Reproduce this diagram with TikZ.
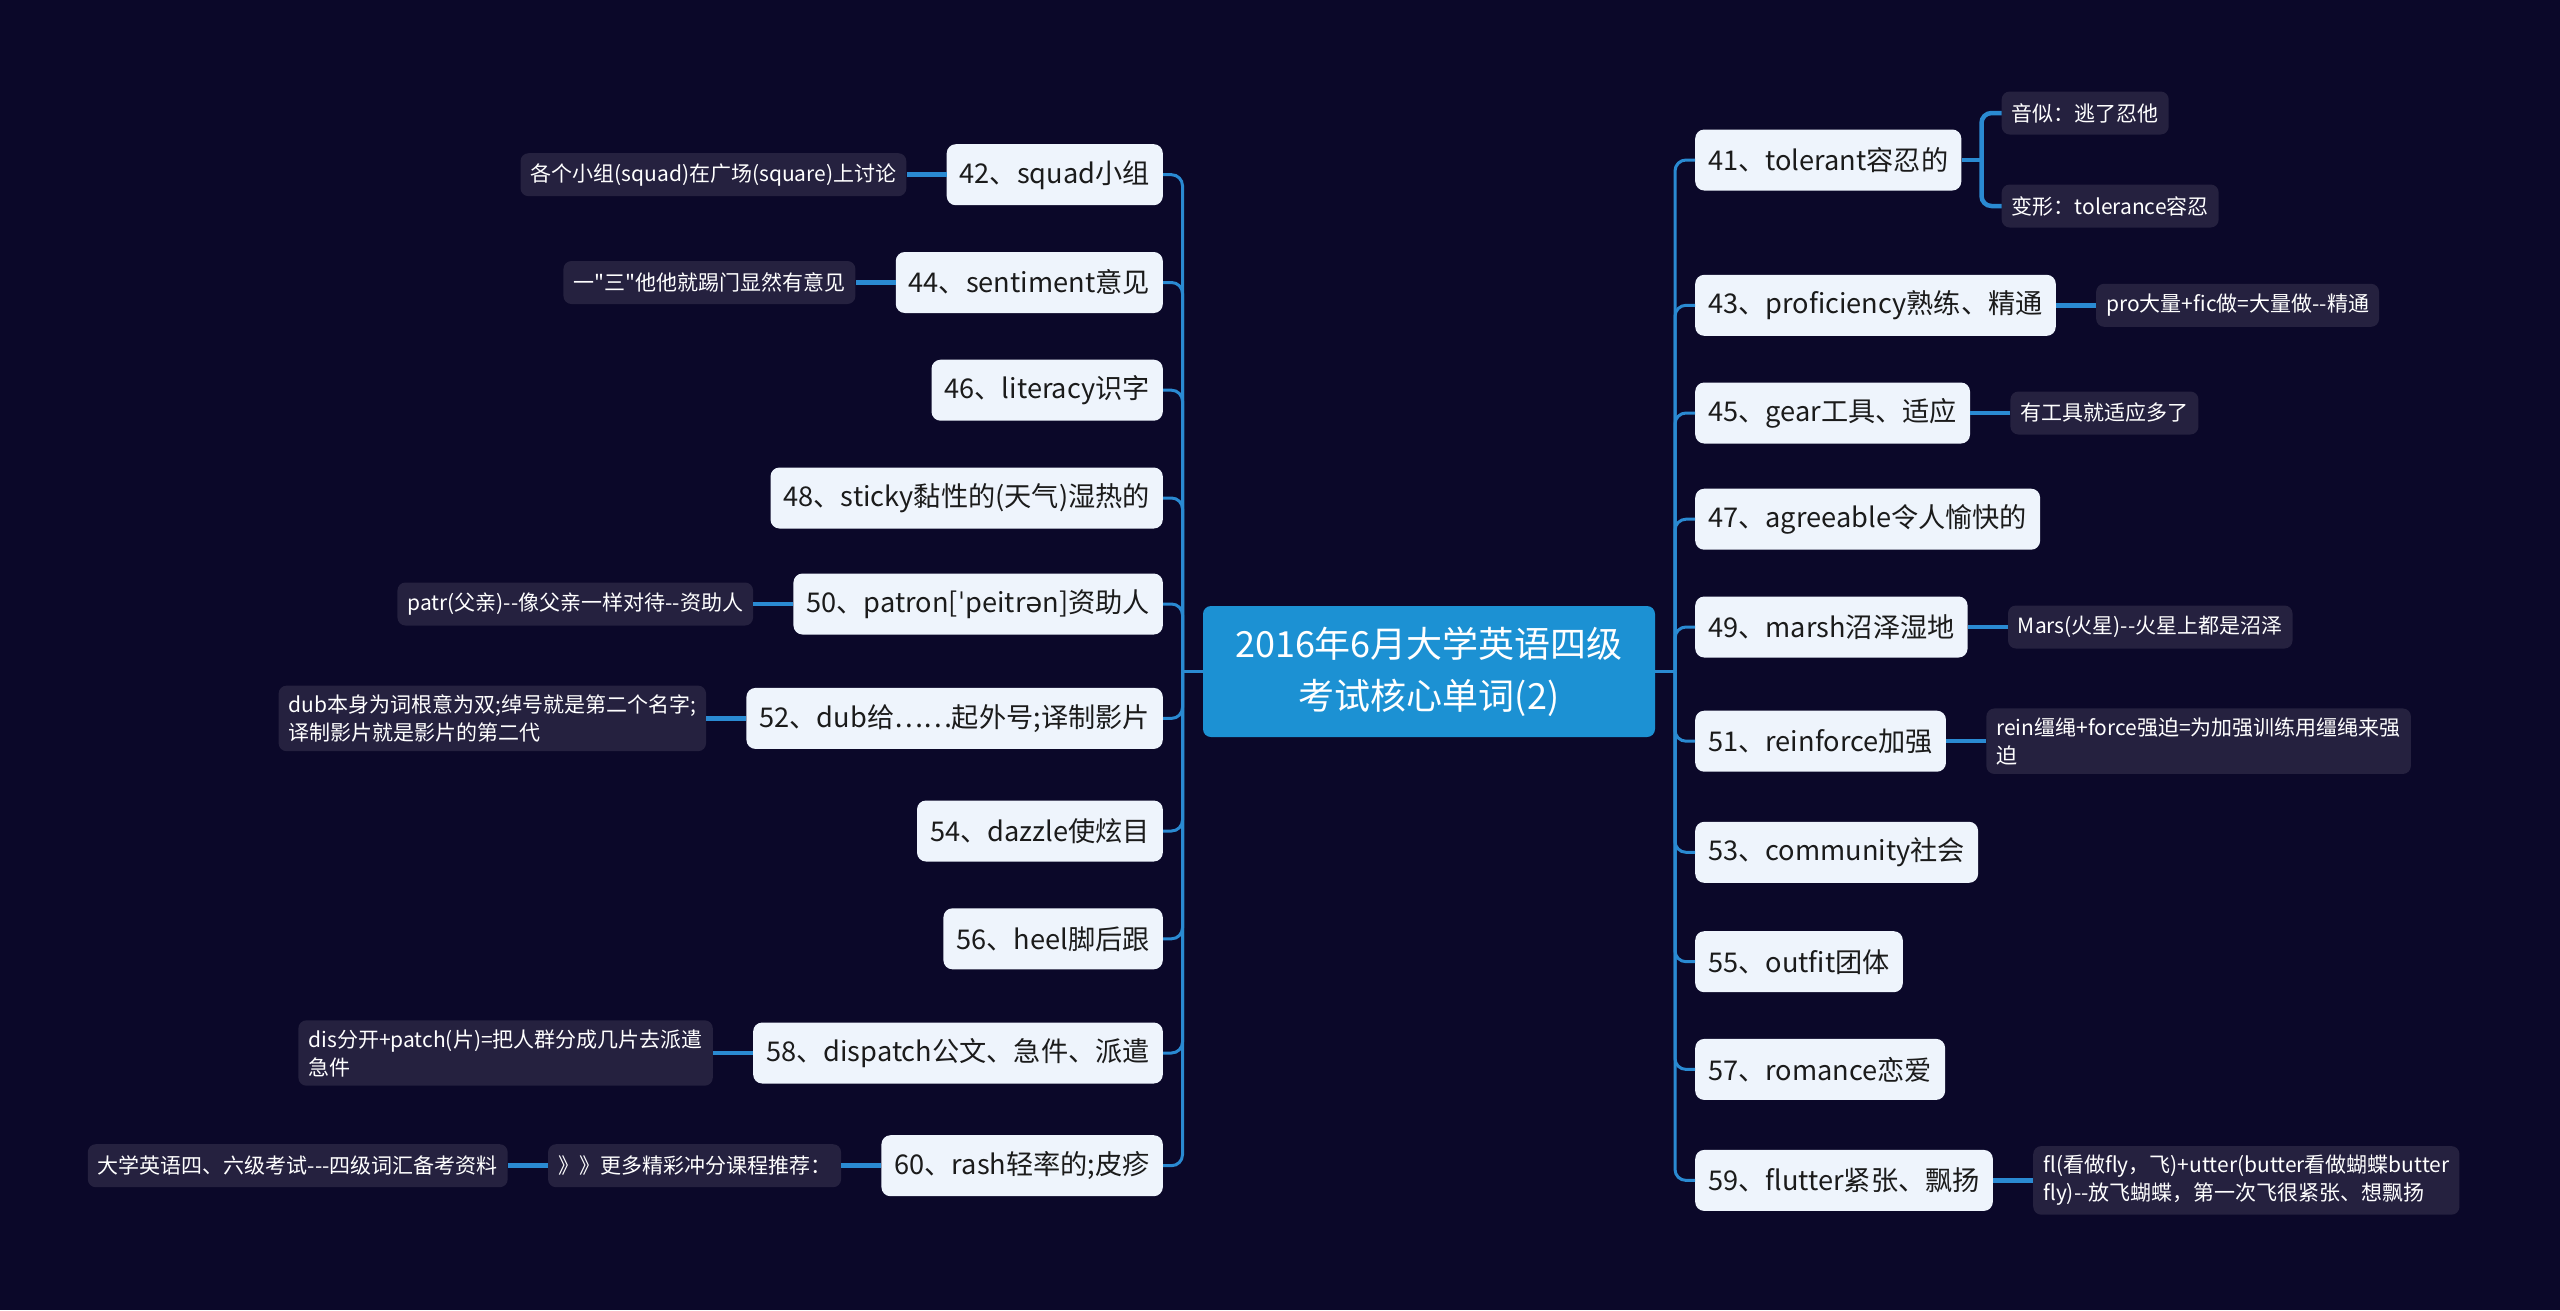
\documentclass[tikz,border=0pt]{standalone}
\usepackage{fontspec}
\setmainfont{Noto Sans CJK SC}[Ligatures=TeXOff]
\newfontfamily\ipafont{DejaVu Sans}
\usetikzlibrary{calc}
\definecolor{bg}{HTML}{0B0829}
\definecolor{rootc}{HTML}{1C91D3}
\definecolor{lonefill}{HTML}{EEF4FC}
\definecolor{lonetext}{HTML}{1B1B1B}
\definecolor{ltwofill}{HTML}{25213F}
\definecolor{linec}{HTML}{2A8AD2}
\tikzset{
  rootbox/.style={fill=rootc, text=white, rounded corners=8pt, minimum width=452pt,
    minimum height=131pt, align=center, font=\fontsize{36}{52}\selectfont},
  topic/.style={fill=lonefill, text=lonetext, rounded corners=9pt, minimum height=61pt,
    inner xsep=13pt, font=\fontsize{27.2}{33}\selectfont},
  note/.style={fill=ltwofill, text=white, rounded corners=8pt, minimum height=43pt,
    inner xsep=10pt, inner ysep=7pt, align=left, font=\fontsize{21}{28}\selectfont},
  branch/.style={draw=linec, line width=3pt, rounded corners=11pt},
  twig/.style={draw=linec, line width=4.5pt}
}
\begin{document}
\begin{tikzpicture}[x=1pt,y=-1pt]
\fill[bg] (0,0) rectangle (2560,1310);
\useasboundingbox (0,0) rectangle (2560,1310);

% root
\node[rootbox] (root) at (1429,671.5) {2016年6月大学英语四级\\考试核心单词(2)};
\coordinate (LS) at (1182.5,671.5);
\coordinate (RS) at (1675,671.5);

% left topics
\node[topic, anchor=east] (n42) at (1163,174.7) {42、squad小组};
\node[topic, anchor=east] (n44) at (1163,282.5) {44、sentiment意见};
\node[topic, anchor=east] (n46) at (1163,390.2) {46、literacy识字};
\node[topic, anchor=east] (n48) at (1163,498) {48、sticky黏性的(天气)湿热的};
\node[topic, anchor=east] (n50) at (1163,604) {50、patron[{\ipafont ˈ}peitr{\ipafont ə}n]资助人};
\node[topic, anchor=east] (n52) at (1163,718.4) {52、dub给……起外号;译制影片};
\node[topic, anchor=east] (n54) at (1163,831) {54、dazzle使炫目};
\node[topic, anchor=east] (n56) at (1163,938.8) {56、heel脚后跟};
\node[topic, anchor=east] (n58) at (1163,1053) {58、dispatch公文、急件、派遣};
\node[topic, anchor=east] (n60) at (1163,1165.7) {60、rash轻率的;皮疹};

% right topics
\node[topic, anchor=west] (n41) at (1695,160) {41、tolerant容忍的};
\node[topic, anchor=west] (n43) at (1695,305.3) {43、proficiency熟练、精通};
\node[topic, anchor=west] (n45) at (1695,413) {45、gear工具、适应};
\node[topic, anchor=west] (n47) at (1695,519.2) {47、agreeable令人愉快的};
\node[topic, anchor=west] (n49) at (1695,627) {49、marsh沼泽湿地};
\node[topic, anchor=west] (n51) at (1695,741.2) {51、reinforce加强};
\node[topic, anchor=west] (n53) at (1695,852.3) {53、community社会};
\node[topic, anchor=west] (n55) at (1695,961.7) {55、outfit团体};
\node[topic, anchor=west] (n57) at (1695,1069.4) {57、romance恋爱};
\node[topic, anchor=west] (n59) at (1695,1180.4) {59、flutter紧张、飘扬};

% left notes
\node[note, anchor=east] (d42) at ([xshift=-40pt]n42.west) {各个小组(squad)在广场(square)上讨论};
\node[note, anchor=east] (d44) at ([xshift=-40pt]n44.west) {一"三"他他就踢门显然有意见};
\node[note, anchor=east] (d50) at ([xshift=-40pt]n50.west) {patr(父亲)-{}-像父亲一样对待-{}-资助人};
\node[note, anchor=east, inner ysep=9pt] (d52) at ([xshift=-40pt]n52.west) {dub本身为词根意为双;绰号就是第二个名字;\\译制影片就是影片的第二代};
\node[note, anchor=east, inner ysep=9pt] (d58) at ([xshift=-40pt]n58.west) {dis分开+patch(片)=把人群分成几片去派遣\\急件};
\node[note, anchor=east] (d60) at ([xshift=-40pt]n60.west) {》》更多精彩冲分课程推荐：};
\node[note, anchor=east] (d60b) at ([xshift=-40pt]d60.west) {大学英语四、六级考试-{}-{}-四级词汇备考资料};

% right notes
\node[note, anchor=west] (d41a) at ($(n41.east)+(40,-47)$) {音似：逃了忍他};
\node[note, anchor=west] (d41b) at ($(n41.east)+(40,46)$) {变形：tolerance容忍};
\node[note, anchor=west] (d43) at ([xshift=40pt]n43.east) {pro大量+fic做=大量做-{}-精通};
\node[note, anchor=west] (d45) at ([xshift=40pt]n45.east) {有工具就适应多了};
\node[note, anchor=west] (d49) at ([xshift=40pt]n49.east) {Mars(火星)-{}-火星上都是沼泽};
\node[note, anchor=west, inner ysep=9pt] (d51) at ([xshift=40pt]n51.east) {rein缰绳+force强迫=为加强训练用缰绳来强\\迫};
\node[note, anchor=west, inner ysep=9pt] (d59) at ([xshift=40pt]n59.east) {fl(看做fly，飞)+utter(butter看做蝴蝶butter\\fly)-{}-放飞蝴蝶，第一次飞很紧张、想飘扬};

% root connectors
\draw[branch] (root.west) -- (LS);
\draw[branch] (root.east) -- (RS);
\foreach \n in {n42,n44,n46,n48,n50,n52,n54,n56,n58,n60}
  \draw[branch] (LS) |- (\n.east);
\foreach \n in {n41,n43,n45,n47,n49,n51,n53,n55,n57,n59}
  \draw[branch] (RS) |- (\n.west);

% note connectors
\draw[twig] (n42.west) -- (d42.east);
\draw[twig] (n44.west) -- (d44.east);
\draw[twig] (n50.west) -- (d50.east);
\draw[twig] (n52.west) -- (d52.east);
\draw[twig] (n58.west) -- (d58.east);
\draw[twig] (n60.west) -- (d60.east);
\draw[twig] (d60.west) -- (d60b.east);
\draw[twig] (n41.east) -- ++(20,0) coordinate (F41);
\draw[twig, rounded corners=10pt] (F41) |- (d41a.west);
\draw[twig, rounded corners=10pt] (F41) |- (d41b.west);
\draw[twig] (n43.east) -- (d43.west);
\draw[twig] (n45.east) -- (d45.west);
\draw[twig] (n49.east) -- (d49.west);
\draw[twig] (n51.east) -- (d51.west);
\draw[twig] (n59.east) -- (d59.west);
\end{tikzpicture}
\end{document}
